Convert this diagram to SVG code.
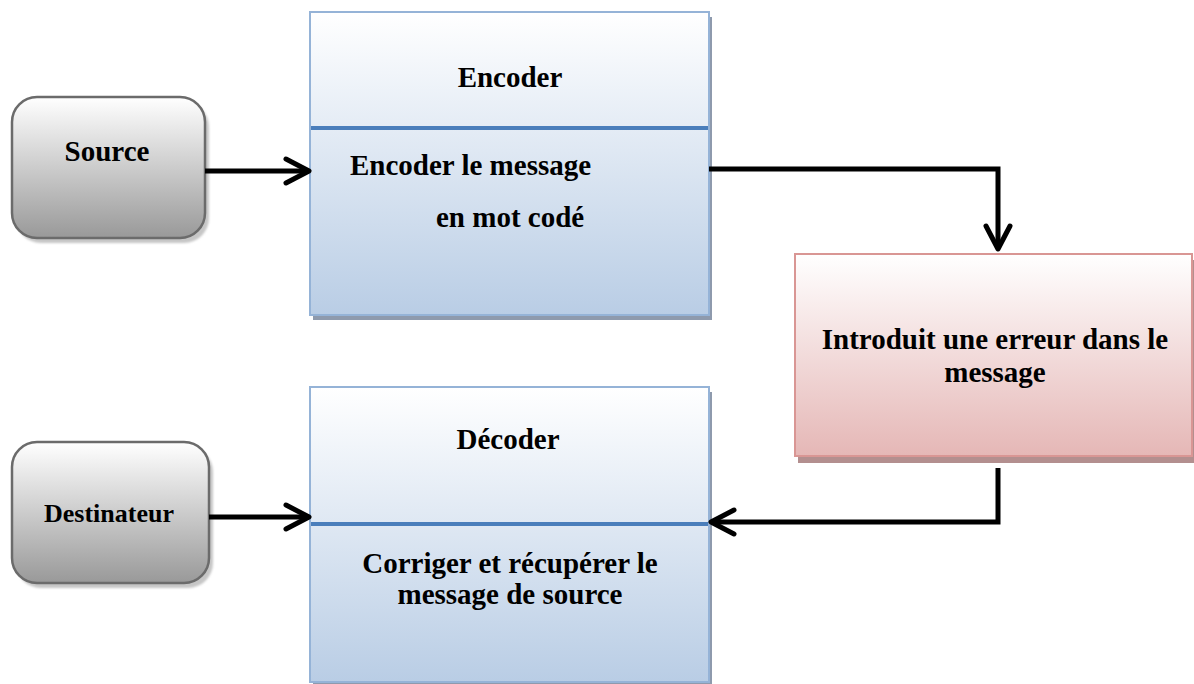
<svg xmlns="http://www.w3.org/2000/svg" width="1194" height="684" viewBox="0 0 1194 684">
  <defs>
    <linearGradient id="gGray" x1="0" y1="0" x2="0" y2="1">
      <stop offset="0" stop-color="#ffffff"/>
      <stop offset="1" stop-color="#999999"/>
    </linearGradient>
    <linearGradient id="gBlue" x1="0" y1="0" x2="0" y2="1">
      <stop offset="0" stop-color="#ffffff"/>
      <stop offset="1" stop-color="#b9cde5"/>
    </linearGradient>
    <linearGradient id="gRed" x1="0" y1="0" x2="0" y2="1">
      <stop offset="0" stop-color="#ffffff"/>
      <stop offset="1" stop-color="#e5b7b6"/>
    </linearGradient>
    <filter id="soft" x="-10%" y="-10%" width="120%" height="120%">
      <feGaussianBlur stdDeviation="1"/>
    </filter>
    <marker id="arr" markerUnits="userSpaceOnUse" markerWidth="40" markerHeight="40" viewBox="-30 -20 40 40" refX="0" refY="0" orient="auto" overflow="visible">
      <path d="M-23,-12 L0,0 L-23,12" fill="none" stroke="#000" stroke-width="5" stroke-linecap="round" stroke-linejoin="round"/>
    </marker>
  </defs>
  <style>
    text { font-family: "Liberation Serif", "Times New Roman", serif; font-weight: bold; font-size: 29px; fill: #000; }
    .mid { text-anchor: middle; }
    .term { fill: url(#gGray); stroke: #6b6b6b; stroke-width: 2.5; }
    .termShadow { fill: #c6c6c6; filter: url(#soft); }
    .blueBox { fill: url(#gBlue); stroke: #95b3d7; stroke-width: 2; }
    .blueShadow { fill: #8e9aad; }
    .divider { stroke: #4a7ebb; stroke-width: 4; }
    .redBox { fill: url(#gRed); stroke: #d99694; stroke-width: 2; }
    .redShadow { fill: #b38f8f; }
    .conn { fill: none; stroke: #000; stroke-width: 5; marker-end: url(#arr); }
  </style>
  <rect width="1194" height="684" fill="#ffffff"/>

  <g id="source">
    <rect class="termShadow" x="16" y="102" width="193" height="141" rx="25"/>
    <rect class="term" x="12" y="97" width="193" height="141" rx="25"/>
    <text class="mid" x="107" y="161">Source</text>
  </g>

  <g id="encoder">
    <rect class="blueShadow" x="313" y="17" width="399" height="303"/>
    <rect class="blueBox" x="310" y="12" width="399" height="303"/>
    <line class="divider" x1="311" y1="128" x2="708" y2="128"/>
    <text class="mid" x="510" y="87">Encoder</text>
    <text x="350" y="175">Encoder le message</text>
    <text x="436" y="227">en mot codé</text>
  </g>

  <g id="canal">
    <rect class="redShadow" x="798" y="260" width="398" height="203"/>
    <rect class="redBox" x="795" y="254" width="397" height="202"/>
    <text class="mid" x="995" y="349">Introduit une erreur dans le</text>
    <text class="mid" x="995" y="382">message</text>
  </g>

  <g id="destinateur">
    <rect class="termShadow" x="16" y="447" width="197" height="141" rx="25"/>
    <rect class="term" x="12" y="442" width="197" height="141" rx="25"/>
    <text class="mid" x="109" y="522" style="font-size:26px">Destinateur</text>
  </g>

  <g id="decoder">
    <rect class="blueShadow" x="313" y="392" width="399" height="296"/>
    <rect class="blueBox" x="310" y="387" width="399" height="295"/>
    <line class="divider" x1="311" y1="524" x2="708" y2="524"/>
    <text class="mid" x="508" y="449">Décoder</text>
    <text class="mid" x="510" y="573">Corriger et récupérer le</text>
    <text class="mid" x="510" y="604">message de source</text>
  </g>

  <g id="connectors">
    <path class="conn" d="M205,171 H309"/>
    <path class="conn" d="M709,169 H998 V249"/>
    <path class="conn" d="M998,468 V522 H711"/>
    <path class="conn" d="M209,517 H309"/>
  </g>
</svg>
